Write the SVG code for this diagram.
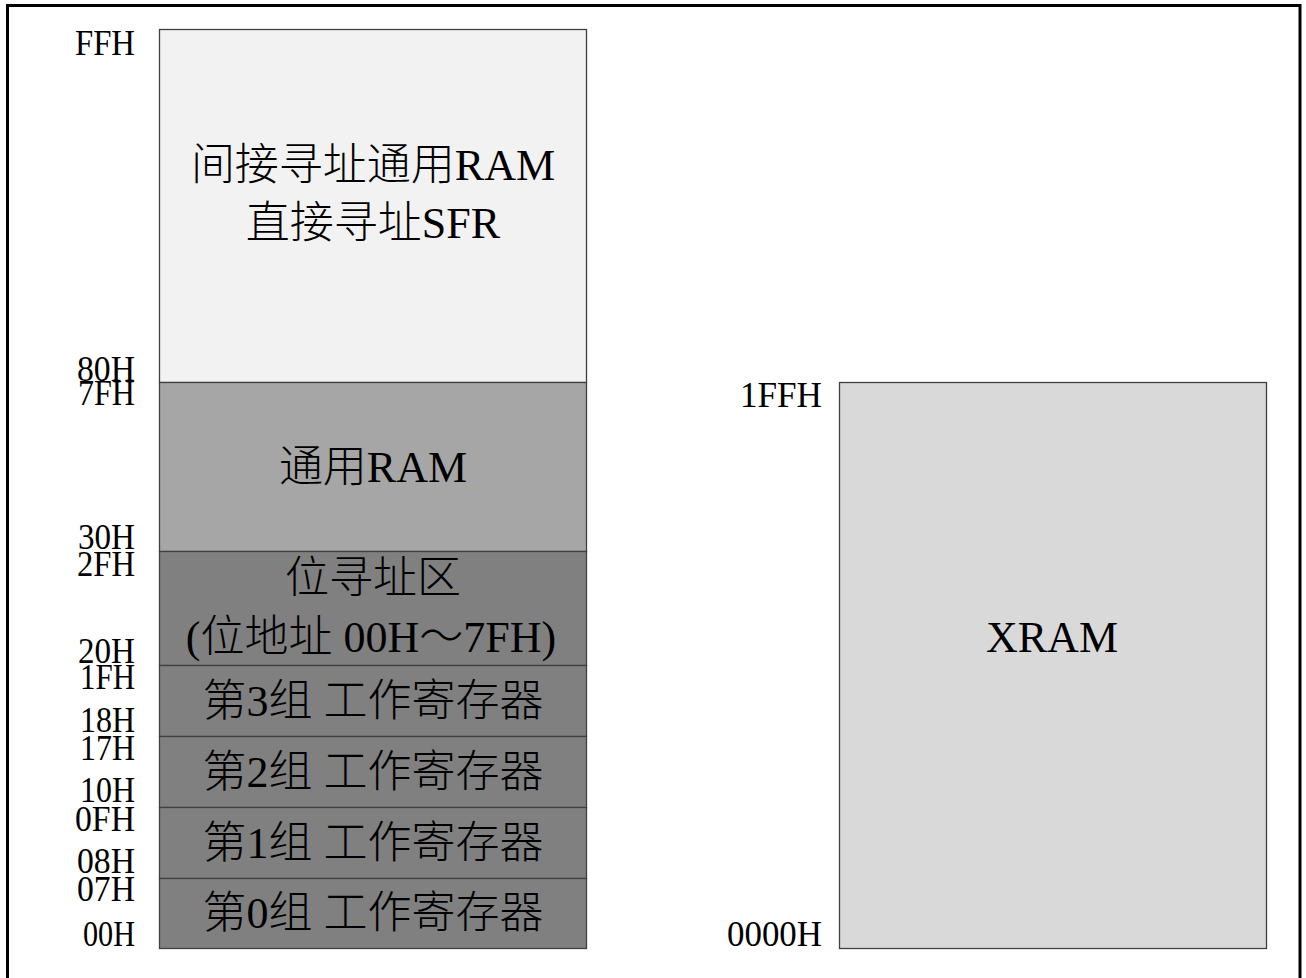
<svg xmlns="http://www.w3.org/2000/svg" width="1306" height="978" viewBox="0 0 1306 978">
  <style>
    .blk { stroke: #404040; stroke-width: 1.3; }
    .lbl { font-family: "Liberation Serif", "Noto Sans CJK SC", serif; font-size: 35px; fill: #000; text-anchor: end; }
    .main { font-family: "Liberation Serif", "Noto Sans CJK SC", serif; font-size: 44px; font-weight: 300; fill: #000; text-anchor: middle; }
  </style>
  <rect x="0" y="0" width="1306" height="978" fill="#ffffff"/>
  <rect id="frame" x="7.5" y="5.5" width="1292.5" height="1000" fill="none" stroke="#000" stroke-width="3"/>

  <g id="node-indirect">
    <rect class="blk" x="159.5" y="29.5" width="427" height="353" fill="#f2f2f2"/>
    <text class="main" x="373" y="180">间接寻址通用RAM</text>
    <text class="main" x="373" y="238">直接寻址SFR</text>
  </g>
  <g id="node-general">
    <rect class="blk" x="159.5" y="382.5" width="427" height="169" fill="#a6a6a6"/>
    <text class="main" x="373" y="482">通用RAM</text>
  </g>
  <g id="node-bit">
    <rect class="blk" x="159.5" y="551.5" width="427" height="114" fill="#808080"/>
    <text class="main" x="373" y="593">位寻址区</text>
    <text class="main" x="371" y="652">(位地址 00H～7FH)</text>
  </g>
  <g id="node-bank3">
    <rect class="blk" x="159.5" y="665.5" width="427" height="71" fill="#808080"/>
    <text class="main" x="373" y="716">第3组 工作寄存器</text>
  </g>
  <g id="node-bank2">
    <rect class="blk" x="159.5" y="736.5" width="427" height="71" fill="#808080"/>
    <text class="main" x="373" y="787">第2组 工作寄存器</text>
  </g>
  <g id="node-bank1">
    <rect class="blk" x="159.5" y="807.5" width="427" height="71" fill="#808080"/>
    <text class="main" x="373" y="858">第1组 工作寄存器</text>
  </g>
  <g id="node-bank0">
    <rect class="blk" x="159.5" y="878.5" width="427" height="70" fill="#808080"/>
    <text class="main" x="373" y="928">第0组 工作寄存器</text>
  </g>
  <g id="node-xram">
    <rect class="blk" x="839.5" y="382.5" width="427" height="566" fill="#d9d9d9"/>
    <text class="main" x="1052" y="652">XRAM</text>
  </g>

  <g id="labels">
    <text class="lbl" x="135" y="55" textLength="60" lengthAdjust="spacingAndGlyphs">FFH</text>
    <text class="lbl" x="135" y="381" textLength="58" lengthAdjust="spacingAndGlyphs">80H</text>
    <text class="lbl" x="135" y="405" textLength="57" lengthAdjust="spacingAndGlyphs">7FH</text>
    <text class="lbl" x="135" y="549" textLength="57" lengthAdjust="spacingAndGlyphs">30H</text>
    <text class="lbl" x="135" y="576" textLength="58" lengthAdjust="spacingAndGlyphs">2FH</text>
    <text class="lbl" x="135" y="663" textLength="57" lengthAdjust="spacingAndGlyphs">20H</text>
    <text class="lbl" x="135" y="689" textLength="55" lengthAdjust="spacingAndGlyphs">1FH</text>
    <text class="lbl" x="135" y="732" textLength="55" lengthAdjust="spacingAndGlyphs">18H</text>
    <text class="lbl" x="135" y="760" textLength="55" lengthAdjust="spacingAndGlyphs">17H</text>
    <text class="lbl" x="135" y="802" textLength="55" lengthAdjust="spacingAndGlyphs">10H</text>
    <text class="lbl" x="135" y="831" textLength="60" lengthAdjust="spacingAndGlyphs">0FH</text>
    <text class="lbl" x="135" y="873" textLength="58" lengthAdjust="spacingAndGlyphs">08H</text>
    <text class="lbl" x="135" y="901" textLength="58" lengthAdjust="spacingAndGlyphs">07H</text>
    <text class="lbl" x="135" y="946" textLength="52" lengthAdjust="spacingAndGlyphs">00H</text>
    <text class="lbl" x="822" y="407" textLength="82" lengthAdjust="spacingAndGlyphs">1FFH</text>
    <text class="lbl" x="822" y="946" textLength="95" lengthAdjust="spacingAndGlyphs">0000H</text>
  </g>
  <g id="connectors"/>
</svg>
